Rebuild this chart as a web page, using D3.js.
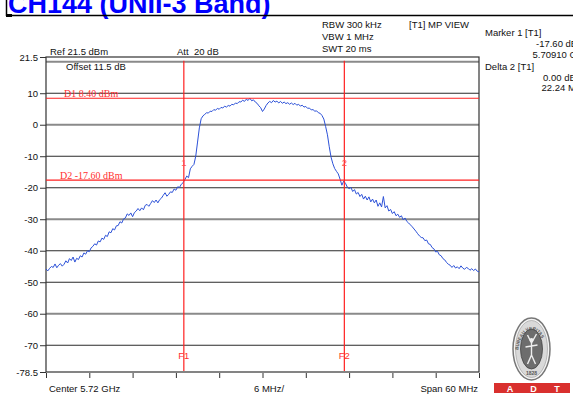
<!DOCTYPE html>
<html>
<head>
<meta charset="utf-8">
<script src="https://cdn.jsdelivr.net/npm/d3@7"></script>
<style>
  body { margin: 0; background: #fff; overflow: hidden; }
  svg { display: block; }
  text { font-family: "Liberation Sans", Arial, sans-serif; white-space: pre; }
</style>
</head>
<body>
<div id="chart"></div>
<script>
// spectrum trace, dBm, one value every 0.25 MHz from 5690 MHz to 5750 MHz
var traceStart = 5690, traceStep = 0.25;
var traceLevel = [
  -45.8, -46.4, -45.6, -45.0, -45.3, -44.2, -45.4, -44.6, -44.1, -44.9,
  -44.3, -43.2, -43.9, -42.5, -43.1, -42.0, -43.6, -42.4, -42.8, -41.6,
  -42.0, -40.7, -41.1, -40.0, -40.3, -39.1, -38.6, -37.8, -38.2, -36.9,
  -37.2, -36.0, -36.4, -35.1, -35.5, -34.0, -34.3, -33.0, -33.4, -32.1,
  -32.0, -30.8, -31.2, -29.9, -29.6, -28.3, -28.8, -28.0, -29.2, -27.9,
  -27.4, -26.6, -27.3, -26.4, -27.0, -25.6, -25.3, -25.9, -25.0, -24.1,
  -24.7, -23.9, -24.8, -23.8, -23.3, -22.4, -21.6, -22.7, -22.1, -21.3,
  -21.5, -20.4, -20.8, -19.7, -19.9, -18.9, -18.4, -17.4, -16.3, -16.8,
  -14.0, -13.2, -12.6, -10.0, -5.5, -1.0, 1.9, 2.8, 3.3, 3.8,
  3.7, 4.3, 4.2, 4.8, 4.6, 5.2, 4.9, 5.5, 5.3, 5.9,
  5.6, 6.1, 5.9, 6.5, 6.3, 6.9, 6.7, 7.3, 7.2, 7.8,
  7.4, 8.1, 7.7, 8.4, 7.6, 7.9, 7.2, 6.8, 6.0, 5.4,
  4.2, 5.0, 6.1, 6.9, 7.4, 7.0, 7.7, 7.2, 7.5, 6.9,
  7.4, 6.8, 7.2, 6.7, 7.0, 6.5, 6.9, 6.4, 6.8, 6.2,
  6.5, 5.9, 6.2, 5.6, 5.8, 5.2, 5.3, 4.7, 4.8, 4.3,
  4.4, 3.8, 3.6, 2.9, 1.8, -0.6, -3.2, -7.0, -10.3, -12.4,
  -13.9, -14.8, -15.6, -17.3, -19.2, -17.9, -18.6, -19.8, -20.3, -19.9,
  -21.2, -20.6, -22.0, -21.5, -22.8, -22.1, -23.6, -22.7, -23.9, -22.9,
  -24.5, -23.6, -24.8, -23.9, -25.9, -24.8, -26.1, -22.8, -26.4, -25.7,
  -27.4, -26.9, -28.2, -27.6, -28.9, -28.4, -29.4, -28.9, -30.2, -29.6,
  -30.7, -31.2, -31.8, -32.4, -33.1, -33.8, -34.6, -35.3, -35.8, -35.9,
  -36.8, -36.6, -37.8, -38.0, -39.0, -39.4, -40.4, -40.2, -41.3, -41.6,
  -42.5, -42.9, -43.7, -44.3, -44.6, -45.3, -44.7, -45.5, -45.1, -45.7,
  -44.8, -45.5, -45.9, -45.3, -45.6, -46.2, -45.7, -46.3, -45.8, -46.5,
  -46.7
];
var traceFreq = traceLevel.map(function(d, i) { return traceStart + i * traceStep; });

// axes
var levelTicks = [21.5, 10, 0, -10, -20, -30, -40, -50, -60, -70, -78.5];
var gridLevels = [20, 10, 0, -10, -20, -30, -40, -50, -60, -70];
var greyGrid = [20, 0, -30, -60];
var freqTicks = [5690, 5696, 5702, 5708, 5714, 5720, 5726, 5732, 5738, 5744, 5750];

// markers and display lines
var markerFreq = [5709.10, 5731.34];
var markerName = ["1", "2"];
var freqLines = [5709.10, 5731.34];
var freqLineName = ["F1", "F2"];
var displayLines = [8.40, -17.60];
var displayLineName = ["D1 8.40 dBm", "D2 -17.60 dBm"];

var headerLeft = ["Ref 21.5 dBm", "Att  20 dB"];
var settings = ["RBW 300 kHz", "VBW 1 MHz", "SWT 20 ms"];
var markerInfo = ["Marker 1 [T1]", "-17.60 dBm", "5.70910 GHz", "Delta 2 [T1]", "0.00 dB", "22.24 MHz"];

var width = 573, height = 401;
var box = {left: 46, right: 479, top: 57, bottom: 372};

var svg = d3.select("#chart").append("svg")
    .attr("width", width)
    .attr("height", height);

var x = d3.scaleLinear().domain([5690, 5750]).range([box.left, box.right]);
var y = d3.scaleLinear().domain([-78.5, 21.5]).range([box.bottom, box.top]);

// title strip
svg.append("text")
    .attr("x", 8).attr("y", 12.5)
    .style("font-size", "27px").style("font-weight", "bold")
    .attr("fill", "#0000ff")
    .text("CH144 (UNII-3 Band)");
svg.append("line").attr("x1", 6).attr("x2", width).attr("y1", 15.5).attr("y2", 15.5)
    .attr("stroke", "#000").attr("stroke-width", 1.5);
svg.append("line").attr("x1", 6.5).attr("x2", 6.5).attr("y1", 0).attr("y2", 16)
    .attr("stroke", "#000").attr("stroke-width", 1.5);
svg.append("rect").attr("x", 6).attr("y", 14).attr("width", 6).attr("height", 3).attr("fill", "#000");

var small = function(sel) { return sel.style("font-size", "9.5px").attr("fill", "#111"); };

// header texts
small(svg.append("text").attr("x", 50).attr("y", 54.5).text(headerLeft[0]));
small(svg.append("text").attr("x", 177).attr("y", 54.5).text(headerLeft[1]));
small(svg.append("text").attr("x", 66).attr("y", 70).text("Offset 11.5 dB"));
settings.forEach(function(s, i) {
    small(svg.append("text").attr("x", 322).attr("y", 28 + i * 12).text(s));
});
small(svg.append("text").attr("x", 409).attr("y", 28).text("[T1] MP VIEW"));

var infoPos = [[485, 35.5], [536, 47], [532.5, 57.5], [485, 69.5], [543, 80.5], [541.5, 91]];
markerInfo.forEach(function(s, i) {
    small(svg.append("text").attr("x", infoPos[i][0]).attr("y", infoPos[i][1]).text(s));
});

// grid
svg.append("g").selectAll("line")
    .data(gridLevels)
    .enter().append("line")
    .attr("x1", box.left).attr("x2", box.right)
    .attr("y1", function(d) { return y(d); })
    .attr("y2", function(d) { return y(d); })
    .attr("stroke", function(d) { return greyGrid.indexOf(d) >= 0 ? "#8a8a8a" : "#2b2b2b"; })
    .attr("stroke-width", function(d) { return greyGrid.indexOf(d) >= 0 ? 2 : 1.2; });

svg.append("rect")
    .attr("x", box.left).attr("y", box.top)
    .attr("width", box.right - box.left).attr("height", box.bottom - box.top)
    .attr("fill", "none").attr("stroke", "#333").attr("stroke-width", 1.2);

// y axis
var yAxis = svg.append("g")
    .attr("transform", "translate(" + box.left + ",0)")
    .call(d3.axisLeft(y).tickValues(levelTicks).tickSize(6).tickSizeOuter(0).tickPadding(2)
        .tickFormat(function(d) { return d; }));
yAxis.select(".domain").remove();
yAxis.selectAll("line").attr("stroke", "#333");
yAxis.selectAll("text").style("font-size", "9.5px").attr("fill", "#111")
    .style("font-family", "'Liberation Sans', Arial, sans-serif");

// x axis
var xAxis = svg.append("g")
    .attr("transform", "translate(0," + (box.bottom + 1) + ")")
    .call(d3.axisBottom(x).tickValues(freqTicks).tickSize(5).tickSizeOuter(0).tickFormat(""));
xAxis.select(".domain").remove();
xAxis.selectAll("line").attr("stroke", "#333");

small(svg.append("text").attr("x", 49).attr("y", 392).text("Center 5.72 GHz"));
small(svg.append("text").attr("x", 269).attr("y", 392).attr("text-anchor", "middle").text("6 MHz/"));
small(svg.append("text").attr("x", 478).attr("y", 392).attr("text-anchor", "end").text("Span 60 MHz"));

// trace
svg.append("defs").append("clipPath").attr("id", "plotclip")
    .append("rect").attr("x", box.left).attr("y", box.top)
    .attr("width", box.right - box.left).attr("height", box.bottom - box.top);

var line = d3.line()
    .x(function(d, i) { return x(traceFreq[i]); })
    .y(function(d) { return y(d); });

svg.append("path")
    .datum(traceLevel)
    .attr("clip-path", "url(#plotclip)")
    .attr("d", line)
    .attr("fill", "none")
    .attr("stroke", "#2d52d8")
    .attr("stroke-width", 1);

// display lines
svg.append("g").selectAll("line")
    .data(displayLines)
    .enter().append("line")
    .attr("x1", box.left).attr("x2", box.right)
    .attr("y1", function(d) { return y(d); })
    .attr("y2", function(d) { return y(d); })
    .attr("stroke", "#ff2020").attr("stroke-width", 1.2);
svg.append("g").selectAll("text")
    .data(displayLines)
    .enter().append("text")
    .attr("x", function(d, i) { return i === 0 ? 64 : 60; })
    .attr("y", function(d) { return y(d) - 1.5; })
    .style("font-family", "'Liberation Serif', 'Times New Roman', serif")
    .style("font-size", "10px")
    .attr("fill", "#ff3030")
    .text(function(d, i) { return displayLineName[i]; });

// frequency lines
svg.append("g").selectAll("line")
    .data(freqLines)
    .enter().append("line")
    .attr("x1", function(d) { return x(d); })
    .attr("x2", function(d) { return x(d); })
    .attr("y1", y(20) - 1).attr("y2", box.bottom - 1)
    .attr("stroke", "#ff2020").attr("stroke-width", 1.2);
svg.append("g").selectAll("text")
    .data(freqLines)
    .enter().append("text")
    .attr("x", function(d) { return x(d); })
    .attr("y", 359)
    .attr("text-anchor", "middle")
    .style("font-size", "9.5px")
    .attr("fill", "#ff3030")
    .text(function(d, i) { return freqLineName[i]; });

// marker numbers
svg.append("g").selectAll("text")
    .data(markerFreq)
    .enter().append("text")
    .attr("x", function(d) { return x(d); })
    .attr("y", 166)
    .attr("text-anchor", "middle")
    .style("font-size", "9.5px")
    .attr("fill", "#ff5050")
    .text(function(d, i) { return markerName[i]; });

// logo
var logo = svg.append("g").attr("transform", "translate(531.5,349)");
logo.append("ellipse").attr("rx", 18.5).attr("ry", 31)
    .attr("fill", "#f4f4f4").attr("stroke", "#777").attr("stroke-width", 1.5);
logo.append("ellipse").attr("rx", 16).attr("ry", 28.5)
    .attr("fill", "#d9d9d9").attr("stroke", "#999").attr("stroke-width", 0.6);
logo.append("ellipse").attr("rx", 11).attr("ry", 20)
    .attr("fill", "#6d6d6d").attr("stroke", "#444").attr("stroke-width", 0.8);
logo.append("path")
    .attr("d", "M-4,-14 L0,-6 L5,-15 M0,-6 L0,6 L-4,15 M0,6 L4,15 M-6,-2 L6,-4")
    .attr("fill", "none").attr("stroke", "#eee").attr("stroke-width", 1.4);
logo.append("circle").attr("cx", 0).attr("cy", -9).attr("r", 2).attr("fill", "#eee");
logo.append("path").attr("id", "ringpath")
    .attr("d", "M-13.5,6 A13.5,25 0 1,1 13.5,6")
    .attr("fill", "none");
logo.append("text").style("font-size", "4.5px").style("font-weight", "bold").attr("fill", "#555")
    .append("textPath").attr("href", "#ringpath").attr("startOffset", "8%")
    .text("BUREAU VERITAS");
logo.append("text").attr("y", 26).attr("text-anchor", "middle")
    .style("font-size", "5px").style("font-weight", "bold").attr("fill", "#555").text("1828");

svg.append("rect").attr("x", 494).attr("y", 383).attr("width", 76).attr("height", 10)
    .attr("fill", "#d9302e");
["A", "D", "T"].forEach(function(s, i) {
    svg.append("text").attr("x", 510 + i * 23.5).attr("y", 391.5)
        .attr("text-anchor", "middle")
        .style("font-size", "9px").style("font-weight", "bold")
        .attr("fill", "#fff").text(s);
});
</script>
</body>
</html>
